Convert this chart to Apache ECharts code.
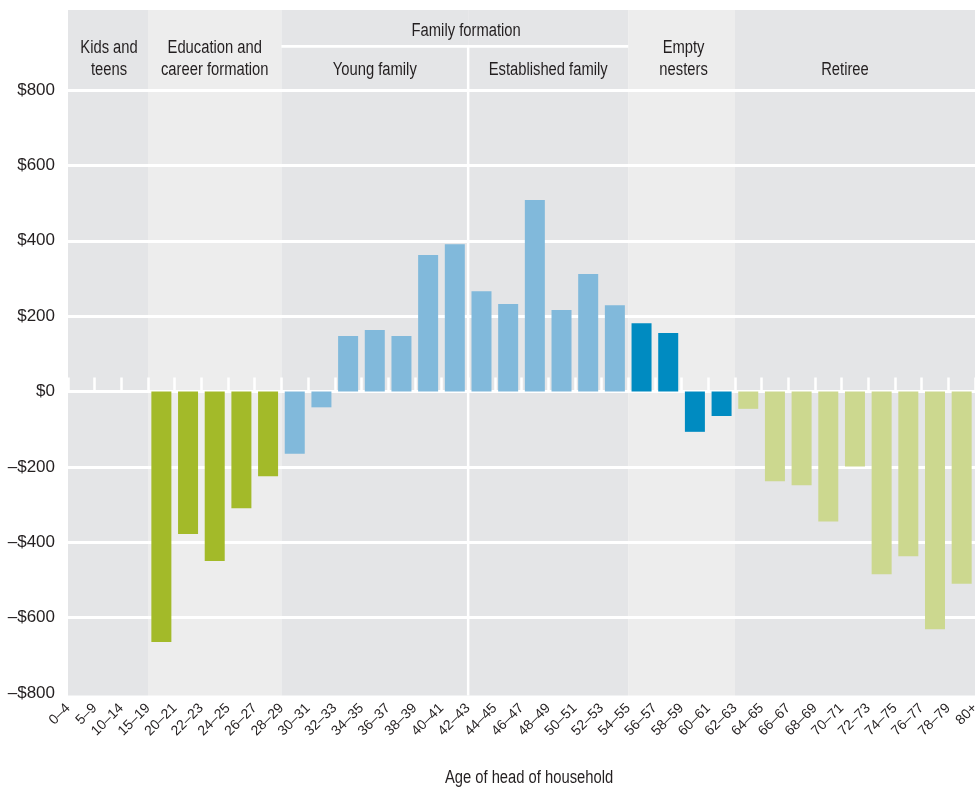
<!DOCTYPE html>
<html><head><meta charset="utf-8">
<script src="https://cdn.jsdelivr.net/npm/echarts@6/dist/echarts.min.js"></script>
<style>html,body{margin:0;padding:0;background:#fff}#c{width:980px;height:787px}</style>
</head><body><div id="c"></div>
<script>
// Tick labels sit on the slot boundaries (35 boundaries, 34 slots)
const tickLabels = ['0–4','5–9','10–14','15–19','20–21','22–23','24–25','26–27','28–29','30–31','32–33','34–35','36–37','38–39','40–41','42–43','44–45','46–47','48–49','50–51','52–53','54–55','56–57','58–59','60–61','62–63','64–65','66–67','68–69','70–71','72–73','74–75','76–77','78–79','80+'];
// Each slot is named by the boundary label on its left
const slots = tickLabels.slice(0, 34);
// Spending values per slot ($)
const values = [null, null, null,
  -665, -378, -450, -310, -225,
  -165, -42, 147, 163, 147, 362, 391, 266, 232, 508, 216, 312, 229,
  181, 155, -107, -65,
  -46, -238, -249, -345, -199, -485, -437, -631, -510];
// Life stages, from boundary label to boundary label
const stageNames = [['Kids and','teens'], ['Education and','career formation'], ['Young family'], ['Established family'], ['Empty','nesters'], ['Retiree']];
const stageFrom = ['0–4', '15–19', '28–29', '42–43', '54–55', '62–63'];
const stageTo   = ['15–19', '28–29', '42–43', '54–55', '62–63', '80+'];
const groupName = 'Family formation';
const groupStages = [2, 3];
const yTicks = [-800, -600, -400, -200, 0, 200, 400, 600, 800];
const xTitle = 'Age of head of household';

// styles
const FONT = "'Liberation Sans',Arial,sans-serif";
const TXT = '#231f20';
const NARROW = 0.82;
const stageBar = [null, '#a3ba29', '#81b9db', '#81b9db', '#008bc1', '#ccd88f'];
const stagePanel = ['#e4e5e7', '#ededed', '#e4e5e7', '#e4e5e7', '#ededed', '#e4e5e7'];
const stageLabelDx = [1, 0, 0, 0, 2, -10];

const bIdx = l => tickLabels.indexOf(l);
function stageOf(s) {
  for (let k = 0; k < stageFrom.length; k++) if (s >= bIdx(stageFrom[k]) && s < bIdx(stageTo[k])) return k;
  return 0;
}
const barData = values.map((v, s) => ({ value: v, itemStyle: { color: stageBar[stageOf(s)] } }));

const chart = echarts.init(document.getElementById('c'), null, { renderer: 'canvas' });
const splitColors = yTicks.map((t, i) => i === 0 ? 'rgba(0,0,0,0)' : '#ffffff');
chart.setOption({
  animation: false,
  backgroundColor: '#ffffff',
  grid: { left: 68, right: 5, top: 90, bottom: 94, containLabel: false, outerBoundsMode: 'none' },
  xAxis: [{
    type: 'category', data: slots, position: 'bottom',
    axisLine: { onZero: true, lineStyle: { color: '#ffffff', width: 3 } },
    axisTick: { show: true, interval: 0, inside: true, length: 14, lineStyle: { color: '#ffffff', width: 2.5 } },
    axisLabel: { show: false, interval: 0 }, splitLine: { show: false }
  }, {
    type: 'category', data: tickLabels, position: 'bottom', boundaryGap: false,
    axisLine: { show: false, onZero: false }, axisTick: { show: false }, splitLine: { show: false },
    axisLabel: { interval: 0, rotate: 45, margin: 13, fontSize: 14, color: TXT, fontFamily: FONT }
  }],
  yAxis: {
    type: 'value', min: yTicks[0], max: yTicks[yTicks.length - 1], interval: 200,
    axisLine: { show: false }, axisTick: { show: false },
    axisLabel: { margin: 13, fontSize: 17, color: TXT, fontFamily: FONT,
      formatter: v => v < 0 ? '–$' + (-v) : '$' + v },
    splitLine: { show: true, lineStyle: { color: splitColors, width: 3 } }
  },
  series: [{ type: 'bar', xAxisIndex: 0, yAxisIndex: 0, data: barData, barWidth: 20 }]
});

const X = l => chart.convertToPixel({ xAxisIndex: 1 }, l);
const Y = v => chart.convertToPixel({ yAxisIndex: 0 }, v);
const topY = 10, botY = Y(yTicks[0]) + 2.5;
const g = [];
function label(t, x, y) {
  return { type: 'text', z: 10, silent: true, x: x, y: y, scaleX: NARROW,
    style: { text: t, fill: TXT, font: '18px ' + FONT, textAlign: 'center', textVerticalAlign: 'middle' } };
}
stageNames.forEach((nm, k) => {
  const x0 = X(stageFrom[k]), x1 = X(stageTo[k]);
  g.push({ type: 'rect', z: -10, silent: true, shape: { x: x0, y: topY, width: x1 - x0, height: botY - topY }, style: { fill: stagePanel[k] } });
  const cx = (x0 + x1) / 2 + stageLabelDx[k];
  const ys = nm.length === 2 ? [48, 70] : [70];
  nm.forEach((t, j) => g.push(label(t, cx, ys[j])));
});
// group header
const gx0 = X(stageFrom[groupStages[0]]), gx1 = X(stageTo[groupStages[1]]), gmid = X(stageTo[groupStages[0]]);
g.push(label(groupName, gmid - 2, 31));
g.push({ type: 'line', z: -5, silent: true, shape: { x1: gx0, y1: 46.3, x2: gx1, y2: 46.3 }, style: { stroke: '#ffffff', lineWidth: 2.7 } });
g.push({ type: 'line', z: -5, silent: true, shape: { x1: gmid, y1: 46.3, x2: gmid, y2: botY }, style: { stroke: '#ffffff', lineWidth: 2.5 } });
g.push(label(xTitle, 529, 778));
chart.setOption({ graphic: g });
</script></body></html>
